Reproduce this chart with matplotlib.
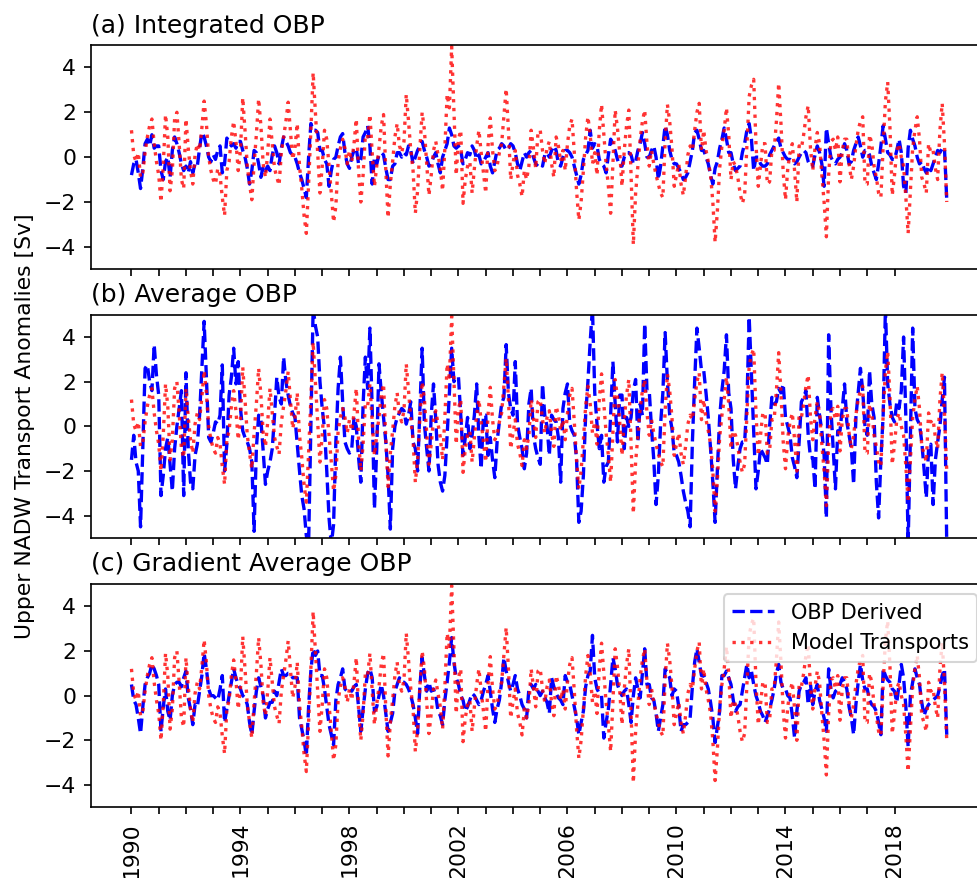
import numpy as np
import matplotlib
matplotlib.use("Agg")
import matplotlib.pyplot as plt

start_year = 1990
n_years = 30

# Model transports (red dotted), monthly, one row per year 1990..2019
model_transports = [
    [1.2, 0.1, -0.2, 0.2, -0.9, -0.7, 0.2, 0.9, 1.4, 1.7, 0.6, -0.2],
    [-0.8, -2.0, -0.4, 1.9, 0.9, -1.5, -0.6, 1.7, 2.0, 0.6, -1.0, -1.4],
    [1.7, 0.4, -0.6, -1.2, 0.1, 0.6, 0.3, 1.3, 2.5, 1.5, 0.0, -0.6],
    [-1.0, -1.2, -0.5, -0.8, -1.8, -2.6, -0.6, -0.2, 0.9, 1.6, 0.7, -0.6],
    [0.3, 2.65, 1.2, -0.4, -1.2, -1.9, -0.3, 1.0, 2.6, 1.4, -0.3, -0.9],
    [0.2, 1.7, 0.6, -0.5, -0.9, -1.25, 0.2, 0.9, 1.6, 2.45, 1.2, -0.1],
    [0.4, 1.5, -0.4, -1.4, -2.6, -3.4, -1.2, 1.2, 3.77, 2.0, 0.2, -1.6],
    [-0.4, 1.2, 0.8, -0.4, -1.6, -2.9, -2.2, -0.2, 0.4, 0.8, 0.4, -0.3],
    [0.3, -0.2, 0.6, 1.7, -0.6, -2.0, -0.8, 1.0, 0.9, 1.9, 0.2, -1.3],
    [-0.4, 0.4, 1.4, 1.9, -0.6, -2.7, -1.2, -0.2, 0.9, 1.5, 0.5, 0.2],
    [0.7, 2.8, 1.6, 0.3, -0.6, -2.5, -1.5, 0.4, 2.0, 1.2, -0.3, -1.7],
    [-0.8, 0.3, 0.7, 0.1, -0.5, -1.5, 0.4, 2.8, 2.2, 4.93, 2.0, -0.8],
    [0.8, 1.2, -2.06, -1.0, -0.4, -0.2, -1.6, -0.5, 0.5, 1.2, 0.2, -0.7],
    [-1.6, 0.5, 1.75, 0.3, -0.6, -0.4, 0.2, 0.6, 1.8, 3.05, 1.2, -1.0],
    [-0.3, 0.3, -0.8, -1.2, -1.76, -0.6, -1.0, -0.4, 1.2, 0.4, -0.5, 1.1],
    [1.2, 0.3, -0.3, 0.4, 0.7, -0.3, -0.9, 0.9, 0.5, -0.2, 0.3, -0.6],
    [0.6, 1.4, 1.7, 0.2, -1.5, -2.8, -2.0, -0.6, 0.9, 1.8, 1.0, -0.3],
    [0.2, -0.8, 1.2, 2.35, 1.0, -0.3, -1.3, -2.5, -0.3, 2.1, 1.3, 0.2],
    [-1.3, 0.3, 1.4, 2.1, -0.8, -3.9, -1.6, -0.4, 0.8, 1.6, 2.1, 0.6],
    [-0.4, 0.3, -0.3, -0.8, -1.2, -1.6, -1.8, 0.7, 2.35, 1.6, 0.4, -1.3],
    [-0.8, -0.3, -1.2, -1.7, -0.9, 0.1, 0.5, 0.3, 1.2, 2.0, 2.4, 0.3],
    [1.2, 0.3, -0.2, -0.8, -2.0, -3.8, -2.4, -0.5, 0.5, 1.2, 2.2, 1.0],
    [-1.0, -0.2, -0.4, -0.9, -1.6, -2.06, -1.7, 0.5, 2.7, 3.2, 3.47, 0.6],
    [-1.3, -0.4, 0.6, 0.6, -1.2, -1.1, 0.3, 0.3, 1.6, 3.3, 1.5, -0.7],
    [-1.9, -0.5, 0.2, 0.6, -0.6, -2.0, 0.5, 0.4, 1.0, 1.8, 2.3, 0.4],
    [-0.6, 0.4, 1.1, 0.6, -0.8, -2.0, -3.55, -0.8, 0.7, 0.8, 0.3, 0.9],
    [-1.1, 0.3, 0.8, 0.8, -0.3, -1.0, -0.4, 0.5, 1.2, 1.6, 1.8, -1.2],
    [-1.2, 1.0, 0.6, -0.4, -0.9, -1.6, -1.8, 0.5, 2.5, 3.35, 1.3, -1.7],
    [-0.8, 0.3, 0.6, 0.0, -0.4, -1.8, -3.4, -1.5, 0.4, 1.2, 1.8, 0.8],
    [-0.9, -1.2, -1.6, 0.6, 0.2, 0.3, -0.5, -1.0, 1.2, 2.4, 0.6, -2.0],
]

# (a) Integrated OBP derived transports (blue dashed)
obp_integrated = [
    [-0.8, -0.3, -0.1, -0.7, -1.4, -0.5, 0.6, 0.8, 0.5, 1.0, 0.4, 0.5],
    [0.5, -0.6, -1.0, -0.2, 0.0, -0.9, 0.3, 0.9, 0.6, 0.2, -0.3, -0.6],
    [-0.4, -0.7, -0.2, -0.7, -0.3, -0.4, 0.4, 1.1, 0.9, 0.5, 0.0, -0.2],
    [0.1, -0.1, 0.3, 0.5, -0.7, -0.3, 0.85, 0.7, 0.5, 0.6, 0.4, 0.7],
    [0.7, 0.3, 0.0, -0.5, -1.2, -0.6, 0.3, 0.2, -0.3, -0.9, -0.4, -0.6],
    [-0.4, -0.6, 0.1, 0.5, 0.2, -0.3, 0.4, 0.9, 0.7, 0.5, 0.2, 0.1],
    [0.0, -0.3, -0.7, -1.0, -1.4, -1.8, 0.0, 1.5, 1.2, 1.2, 1.1, 0.3],
    [0.3, -0.1, -0.3, -1.3, -0.6, -0.1, 0.0, 0.5, 0.9, 1.05, 0.2, -0.3],
    [-0.5, 0.0, 0.3, 0.4, -0.3, -0.1, 0.9, 1.1, 1.4, 0.5, -1.2, 0.0],
    [-0.3, 0.1, 0.2, 0.1, -0.5, -1.0, -1.0, -0.4, -0.3, 0.2, 0.2, 0.0],
    [0.2, 0.1, 0.5, 0.3, -0.3, 0.0, 0.3, 0.5, 0.7, 0.3, 0.0, -0.4],
    [-0.3, 0.0, 0.2, -0.3, -0.7, 0.0, 0.3, 0.6, 1.3, 1.0, 0.5, 0.4],
    [0.5, 0.3, -0.3, -0.1, 0.2, 0.1, 0.5, 0.3, -0.1, 0.1, -0.3, -0.2],
    [0.0, 0.2, -0.4, -0.7, -0.2, 0.3, 0.4, 0.6, 0.5, 0.3, 0.4, 0.6],
    [0.5, 0.2, -0.3, -0.6, -0.2, 0.2, 0.0, 0.2, 0.3, 0.0, -0.3, -0.4],
    [-0.3, -0.4, 0.1, 0.2, 0.0, 0.3, 0.5, 0.3, -0.3, -0.4, 0.0, 0.3],
    [0.3, 0.2, 0.0, -0.4, -0.8, -1.2, -0.8, -0.1, 0.1, 0.3, 1.2, 0.4],
    [0.6, 0.5, -0.1, -0.3, -0.4, -0.7, 0.1, 0.8, 0.6, 0.3, -0.1, -0.4],
    [-0.4, 0.0, 0.2, 0.2, 0.1, -0.3, -0.2, 0.3, 0.6, 1.1, 0.6, 0.0],
    [0.0, 0.3, 0.5, 0.0, -1.0, -0.4, 0.5, 1.4, 1.0, 0.3, -0.1, -0.3],
    [-0.3, -0.5, -0.7, -1.0, -0.9, -0.7, -0.2, 0.3, 1.1, 1.2, 0.8, 0.3],
    [0.3, 0.0, -0.3, -0.8, -1.2, -0.5, -0.2, 0.4, 0.8, 1.3, 0.8, 0.2],
    [0.2, -0.3, -0.6, -0.5, -0.4, 0.2, 0.6, 1.2, 1.5, 0.8, -0.6, 0.0],
    [0.0, -0.3, -0.4, -0.4, -0.3, 0.1, 0.3, 0.5, 0.7, 0.85, 0.4, 0.2],
    [0.0, -0.1, -0.1, -0.2, -0.3, -0.2, 0.0, 0.2, 0.3, 0.2, -0.2, -0.4],
    [-0.4, 0.1, 0.5, 0.2, -0.3, -1.3, 1.3, 0.6, 0.0, -0.2, -0.3, -0.1],
    [0.0, 0.2, 0.6, 0.3, -0.3, -0.2, 0.3, 0.6, 0.9, 0.5, 0.0, 0.3],
    [0.3, 0.1, -0.4, -0.7, -1.0, -0.3, 0.5, 1.4, 0.8, 0.2, 0.1, -0.1],
    [-0.1, 0.3, 0.8, 0.2, -1.3, -1.6, 0.4, 1.2, 0.8, 0.5, 0.0, -0.3],
    [-0.2, -0.5, -0.7, -0.4, -0.6, -0.3, 0.0, 0.3, 0.2, 0.4, 0.4, -1.9],
]

# (b) Average OBP derived transports (blue dashed)
obp_average = [
    [-1.5, -0.4, -1.6, -2.0, -4.5, -1.0, 2.6, 2.75, 2.0, 1.6, 3.66, 2.3],
    [1.4, -3.1, -2.2, -1.0, -0.5, -1.7, -2.9, -1.0, 0.0, 0.8, 1.6, -3.1],
    [2.4, -1.0, -2.5, -2.8, -1.3, -0.8, 0.5, 2.6, 4.7, 2.2, -0.5, -0.7],
    [-0.3, 0.2, 0.1, 0.5, 2.75, -2.0, -0.8, 1.4, 2.2, 3.5, 1.9, 2.9],
    [0.8, -0.2, -0.5, -0.7, -1.0, -1.6, -4.7, -1.0, 0.5, 0.3, -1.1, -2.6],
    [-2.0, -1.6, -1.0, 0.5, 2.2, 1.3, 1.0, 3.1, 2.0, 1.4, 0.9, 0.6],
    [0.4, -0.8, -2.0, -3.1, -3.7, -4.9, -5.3, 0.0, 5.3, 4.5, 4.0, 2.0],
    [0.8, -0.1, -2.0, -4.1, -5.3, -4.4, -0.7, 1.7, 3.1, 1.1, -0.7, -1.0],
    [-1.2, -1.0, 0.4, 0.0, -1.4, -2.5, 1.0, 3.1, 1.7, 4.4, 0.8, -3.7],
    [-1.0, 2.8, 1.5, 0.4, -0.7, -2.2, -4.6, -1.0, 0.0, 0.4, 0.6, 0.8],
    [0.7, 0.1, 0.5, 1.1, -0.7, -1.0, -2.0, 0.8, 3.5, 0.1, -1.0, -2.0],
    [0.5, 1.9, 0.3, -1.7, -2.5, -2.9, -2.2, -0.4, 1.5, 3.5, 2.0, 2.2],
    [2.2, 0.5, -1.3, -0.5, 0.4, -1.0, -0.4, 0.5, 1.9, -0.5, -1.9, 0.5],
    [0.5, -1.3, -0.5, -1.5, -2.3, -0.7, 0.2, 1.0, 1.3, 3.66, 1.5, 0.8],
    [0.5, 2.9, 0.1, -0.5, -1.0, -1.9, -1.2, 1.0, 1.7, -0.4, -1.0, -1.4],
    [-1.7, 1.9, 0.5, 0.0, -1.3, 0.5, 0.3, 0.2, -0.5, -2.5, 0.8, 1.5],
    [1.9, 0.1, -0.2, -0.4, -1.5, -4.3, -3.8, -2.2, 0.5, 2.0, 3.8, 5.3],
    [1.5, 0.1, -1.0, -0.4, -2.5, -1.8, -1.6, 0.5, 2.9, 1.0, -0.7, 1.4],
    [1.4, -1.0, 0.4, 0.0, 0.4, 1.6, 2.1, -0.7, 1.0, 0.5, 4.6, 1.6],
    [1.6, -0.1, -1.5, -3.5, -2.2, 0.1, 1.5, 4.2, 2.0, 0.5, -0.1, -1.2],
    [-1.3, -1.6, -2.2, -2.9, -3.4, -3.8, -4.5, -0.7, 2.0, 4.4, 3.5, 2.5],
    [2.5, 1.5, 0.4, -1.0, -2.5, -4.3, -2.0, 0.4, 1.6, 2.5, 4.1, 1.5],
    [0.8, -1.5, -2.8, -1.8, -1.0, -0.7, -0.7, 1.0, 4.9, 2.3, -0.4, -2.8],
    [-2.0, -1.0, -1.2, -1.4, -1.7, 0.0, 1.3, 1.0, 1.1, 1.7, 1.5, 1.9],
    [0.4, 0.0, -0.4, -1.4, -1.8, -2.3, -0.7, 1.1, 1.3, 1.6, -0.4, -1.4],
    [-1.4, -2.8, 1.3, 0.5, -0.2, -1.3, -4.1, 4.1, 0.8, -1.0, -2.8, -0.2],
    [-0.2, 0.8, 1.9, 0.2, -0.4, -1.0, -2.6, 0.4, 1.5, 2.6, 1.6, 0.0],
    [-0.4, 2.5, 1.0, 0.4, -2.5, -4.1, -1.5, 0.5, 5.3, 1.9, 1.0, 0.4],
    [0.2, 1.1, 0.8, 1.6, 4.0, 0.4, -5.3, -0.4, 4.4, 0.8, 0.3, 0.1],
    [-0.7, -1.9, -3.2, -1.0, -0.8, -3.5, -1.5, -0.7, 0.0, 1.2, 2.2, -5.3],
]

# (c) Gradient Average OBP derived transports (blue dashed)
obp_gradient = [
    [0.5, -0.2, -0.4, -1.0, -1.7, -0.5, 0.5, 0.8, 1.0, 1.4, 1.2, 0.9],
    [0.5, -1.6, -0.5, 0.3, -0.7, -1.1, 0.0, 0.5, 0.6, 0.6, 0.4, 0.8],
    [1.1, -0.1, -0.6, -1.3, -0.4, -0.5, 0.2, 0.9, 1.9, 1.2, 0.3, 0.0],
    [0.0, -0.1, -0.2, 0.3, 0.9, -1.2, -0.6, 0.0, 0.6, 1.2, 0.8, 0.5],
    [0.3, 0.0, -0.1, -0.4, -1.2, -1.75, -0.7, 0.2, 0.8, 0.4, 0.0, -1.0],
    [-0.6, -0.3, -0.3, 0.2, 0.0, 0.6, 1.2, 0.9, 0.9, 1.0, 1.0, 0.8],
    [0.8, 0.8, -1.0, -1.5, -2.0, -2.7, -0.5, 1.1, 2.1, 1.8, 2.0, 0.9],
    [0.9, 0.3, -0.5, -1.3, -1.75, -2.2, -0.2, 0.5, 0.8, 1.2, 0.3, 0.2],
    [0.3, 0.2, 0.4, 0.5, -0.5, -1.6, -0.6, 0.3, 1.0, 1.2, 0.8, -0.7],
    [-0.5, 0.0, 0.5, 0.0, -0.8, -1.6, -1.2, -0.8, 0.2, 0.5, 0.8, 0.6],
    [0.6, 0.5, 0.3, 0.0, -0.4, -1.0, -1.7, 0.4, 1.7, 0.9, 0.2, 0.6],
    [0.2, 0.3, 0.0, -0.7, -0.9, -1.3, -0.2, 0.6, 1.5, 2.6, 1.5, 0.8],
    [0.5, 0.0, -0.2, -0.7, -0.5, -0.2, 0.1, 0.0, -0.2, -0.4, -0.2, 0.2],
    [0.5, 0.9, 0.2, -0.6, -1.2, -0.6, -0.2, 0.6, 1.7, 1.1, 0.6, 0.2],
    [0.5, 0.9, 0.3, 0.0, -0.4, -0.6, -1.0, 0.3, 0.5, 0.3, 0.5, 0.2],
    [0.0, 0.2, -0.1, -0.3, -0.8, 0.8, 0.4, 0.1, -0.1, -0.2, -0.4, 0.9],
    [0.6, 0.5, 0.0, -0.5, -1.0, -1.75, -1.2, -0.7, 0.4, 0.9, 1.1, 2.7],
    [0.8, 0.3, 0.1, 0.0, -1.9, -1.2, -0.6, 0.5, 1.7, 1.2, 0.5, 0.2],
    [0.0, 0.2, 0.3, -0.4, -1.2, 0.0, 0.8, 0.3, -0.1, 1.0, 2.1, 0.5],
    [0.5, -0.1, -0.2, -0.8, -1.6, -1.0, -0.4, 1.2, 1.0, 0.8, 0.0, 0.3],
    [0.2, -0.5, -1.6, -1.3, -1.3, -1.2, -1.0, 0.4, 1.5, 2.1, 1.5, 0.9],
    [0.9, 0.6, 0.3, -0.3, -1.0, -2.1, -1.4, -0.7, 0.9, 0.9, 1.1, 0.8],
    [0.5, -0.2, -0.7, -0.5, -0.4, 0.2, 0.8, 1.4, 0.8, 1.1, 0.5, 0.0],
    [-0.3, -0.7, -0.9, -1.2, -0.9, -0.6, -0.2, 0.3, 1.0, 1.4, 0.6, 0.3],
    [0.3, 0.0, -0.1, -0.9, -1.9, -0.7, 0.2, 0.5, 0.6, 0.8, -0.4, 0.5],
    [-0.4, 0.2, 0.5, -0.2, -0.6, -1.0, -1.6, 1.2, 0.3, -0.1, 0.2, 0.3],
    [0.5, 0.8, 0.6, 0.3, -0.5, -1.0, -1.75, -0.4, 0.6, 1.4, 0.7, 0.3],
    [0.3, -0.2, -0.4, -0.5, -0.7, -1.2, -1.75, 1.2, 0.9, 0.7, 0.6, 0.3],
    [0.2, -0.3, 0.5, 1.4, 0.8, -0.5, -2.3, 0.0, 0.6, 1.2, 0.8, 0.5],
    [-0.3, -0.9, -0.6, -0.4, -0.3, -0.2, -0.1, 0.0, 0.4, 0.9, 1.2, -1.75],
]

panel_titles = ["(a) Integrated OBP", "(b) Average OBP", "(c) Gradient Average OBP"]
series_labels = ["OBP Derived", "Model Transports"]
ylabel_text = "Upper NADW Transport Anomalies [Sv]"
tick_years = list(range(1990, 2019))
label_years = [1990, 1994, 1998, 2002, 2006, 2010, 2014, 2018]

time = start_year + np.arange(n_years * 12) / 12.0
model = np.array(model_transports).ravel()
obp_sets = [np.array(s).ravel() for s in (obp_integrated, obp_average, obp_gradient)]

plt.rcParams["font.family"] = "DejaVu Sans"
plt.rcParams["font.size"] = 10

fig = plt.figure(figsize=(978 / 150, 878 / 150), dpi=150)
W, H = 978.0, 878.0
left_px, right_px = 90.7, 987.5
panels_px = [(45.0, 269.3), (314.7, 538.0), (584.0, 807.3)]

axes = []
for (top, bot) in panels_px:
    ax = fig.add_axes([left_px / W, 1 - bot / H, (right_px - left_px) / W, (bot - top) / H])
    axes.append(ax)

for i, (ax, obp, title) in enumerate(zip(axes, obp_sets, panel_titles)):
    ax.plot(time, obp, color="blue", linestyle="--", linewidth=1.6, label=series_labels[0])
    ax.plot(time, model, color="red", linestyle=":", linewidth=1.6, alpha=0.8, label=series_labels[1])
    ax.set_ylim(-5, 5)
    ax.set_yticks([-4, -2, 0, 2, 4])
    ax.set_xticks(tick_years)
    ax.tick_params(labelsize=10.5)
    ax.set_title(title, loc="left", fontsize=12)
    if i < 2:
        ax.set_xticklabels([])
    else:
        ax.set_xticklabels([str(y) if y in label_years else "" for y in tick_years], rotation=90)

axes[1].set_ylabel(ylabel_text, fontsize=10.5)
axes[2].legend(loc="upper right", fontsize=10)

fig.savefig("out.png", dpi=150)
